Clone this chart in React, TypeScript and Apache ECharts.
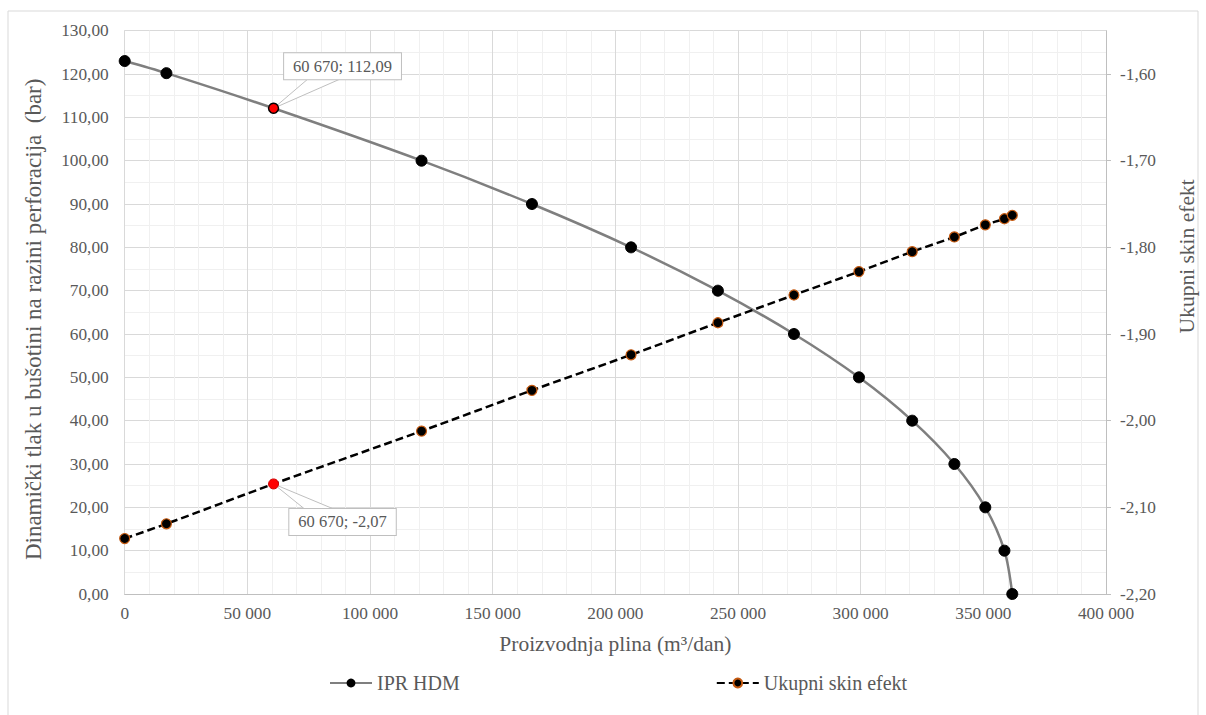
import React, { useEffect, useRef } from "react";
import * as echarts from "echarts";

// Production (m3/dan) for each measured point
const production = [0, 17000, 60670, 121000, 166000, 206400, 241800, 272800, 299300, 321000, 338200, 350800, 358600, 361800];
// IPR HDM – bottom-hole pressure (bar)
const pressure = [123.0, 120.2, 112.09, 100, 90, 80, 70, 60, 50, 40, 30, 20, 10, 0];
// Ukupni skin efekt
const skin = [-2.136, -2.119, -2.073, -2.012, -1.965, -1.924, -1.887, -1.855, -1.828, -1.805, -1.788, -1.774, -1.767, -1.763];
const highlightIndex = 2;
const seriesNames = ["IPR HDM", "Ukupni skin efekt"];
const xAxisTitle = "Proizvodnja plina (m³/dan)";
const yLeftTitle = "Dinamički tlak u bušotini na razini perforacija  (bar)";
const yRightTitle = "Ukupni skin efekt";

const FONT = "Liberation Serif";
const TEXT = "#595959";

const fmtNum = (v: number, d: number) => v.toFixed(d).replace(".", ",");
const fmtThousands = (v: number) =>
  String(Math.round(v)).replace(/\B(?=(\d{3})+(?!\d))/g, " ");

export default function App() {
  const ref = useRef<HTMLDivElement>(null);
  useEffect(() => {
    if (!ref.current) return;
    const chart = echarts.init(ref.current, undefined, { renderer: "svg" });

    const labelBase = {
      show: true,
      position: "inside",
      backgroundColor: "#ffffff",
      borderColor: "#bfbfbf",
      borderWidth: 1,
      padding: [5, 9, 4, 9],
      color: TEXT,
      fontSize: 16.5,
      fontFamily: FONT,
    };

    const iprData = production.map((x, i) =>
      i === highlightIndex
        ? {
            value: [x, pressure[i]],
            itemStyle: { color: "#ff0000", borderColor: "#000000", borderWidth: 1.5 },
            symbolSize: 10,
            label: {
              ...labelBase,
              offset: [69, -42],
              formatter: (p: any) => `${fmtThousands(p.value[0])}; ${fmtNum(p.value[1], 2)}`,
            },
          }
        : [x, pressure[i]]
    );
    const skinData = production.map((x, i) =>
      i === highlightIndex
        ? {
            value: [x, skin[i]],
            itemStyle: { color: "#ff0000", borderColor: "#d00000", borderWidth: 1 },
            symbolSize: 10,
            label: {
              ...labelBase,
              offset: [69, 38],
              formatter: (p: any) => `${fmtThousands(p.value[0])}; ${fmtNum(p.value[1], 2)}`,
            },
          }
        : [x, skin[i]]
    );

    chart.setOption({
      animation: false,
      backgroundColor: "#ffffff",
      textStyle: { fontFamily: FONT },
      grid: { left: 124.7, right: 94.5, top: 30.7, bottom: 121, containLabel: false },
      legend: {
        left: 324,
        top: 668,
        itemGap: 256,
        itemWidth: 42,
        itemHeight: 11,
        textStyle: { color: TEXT, fontSize: 20, fontFamily: FONT },
        data: seriesNames,
      },
      xAxis: {
        type: "value",
        min: 0,
        max: 400000,
        interval: 50000,
        name: xAxisTitle,
        nameLocation: "middle",
        nameGap: 39,
        nameTextStyle: { color: TEXT, fontSize: 21.5, fontFamily: FONT },
        axisLine: { show: true, lineStyle: { color: "#bfbfbf" } },
        axisTick: { show: false },
        axisLabel: { color: TEXT, fontSize: 17.3, fontFamily: FONT, margin: 11, formatter: (v: number) => fmtThousands(v) },
        splitLine: { show: true, lineStyle: { color: "#d9d9d9" } },
        minorTick: { show: false, splitNumber: 5 },
        minorSplitLine: { show: true, lineStyle: { color: "#f0f0f0" } },
      },
      yAxis: [
        {
          type: "value",
          min: 0,
          max: 130,
          interval: 10,
          position: "left",
          name: yLeftTitle,
          nameLocation: "middle",
          nameRotate: 90,
          nameGap: 80,
          nameTextStyle: { color: TEXT, fontSize: 23, fontFamily: FONT, padding: [0, 14, 0, 0] },
          axisLine: { show: true, lineStyle: { color: "#d9d9d9" } },
          axisTick: { show: false },
          axisLabel: { color: TEXT, fontSize: 17.3, fontFamily: FONT, margin: 16, formatter: (v: number) => fmtNum(v, 2) },
          splitLine: { show: true, lineStyle: { color: "#d9d9d9" } },
          minorTick: { show: false, splitNumber: 2 },
          minorSplitLine: { show: true, lineStyle: { color: "#f0f0f0" } },
        },
        {
          type: "value",
          min: -2.2,
          max: -1.55,
          interval: 0.1,
          position: "right",
          name: yRightTitle,
          nameLocation: "middle",
          nameRotate: 90,
          nameGap: 70,
          nameTextStyle: { color: TEXT, fontSize: 21.5, fontFamily: FONT, padding: [0, 0, 0, 112] },
          axisLine: { show: true, lineStyle: { color: "#bfbfbf" } },
          axisTick: { show: true, length: 5, lineStyle: { color: "#bfbfbf" } },
          axisLabel: {
            color: TEXT,
            fontSize: 17.3,
            fontFamily: FONT,
            margin: 14,
            showMaxLabel: false,
            formatter: (v: number) => (v > -1.56 ? "" : fmtNum(v, 2)),
          },
          splitLine: { show: false },
        },
      ],
      series: [
        {
          name: seriesNames[0],
          type: "line",
          xAxisIndex: 0,
          yAxisIndex: 0,
          smooth: 0.3,
          symbol: "circle",
          symbolSize: 11,
          data: iprData,
          lineStyle: { color: "#7f7f7f", width: 2.5 },
          itemStyle: { color: "#000000", borderColor: "#000000" },
          z: 3,
        },
        {
          name: seriesNames[1],
          type: "line",
          xAxisIndex: 0,
          yAxisIndex: 1,
          smooth: 0.3,
          symbol: "circle",
          symbolSize: 10,
          data: skinData,
          lineStyle: { color: "#000000", width: 2.5, type: [8, 4] },
          itemStyle: { color: "#000000", borderColor: "#c55a11", borderWidth: 1.2 },
          z: 3,
        },
      ],
    });

    const p1 = chart.convertToPixel({ xAxisIndex: 0, yAxisIndex: 0 }, [production[highlightIndex], pressure[highlightIndex]]) as number[];
    const p2 = chart.convertToPixel({ xAxisIndex: 0, yAxisIndex: 1 }, [production[highlightIndex], skin[highlightIndex]]) as number[];

    chart.setOption({
      graphic: [
        {
          type: "rect",
          shape: { x: 8, y: 11, width: 1190, height: 710 },
          style: { fill: "none", stroke: "#d9d9d9", lineWidth: 1 },
          silent: true,
          z: 0,
        },
        {
          type: "polygon",
          shape: { points: [[p1[0], p1[1]], [p1[0] + 34, p1[1] - 29], [p1[0] + 66, p1[1] - 29]] },
          style: { fill: "#ffffff", stroke: "#bfbfbf", lineWidth: 1 },
          z: 1,
        },
        {
          type: "polygon",
          shape: { points: [[p2[0], p2[1]], [p2[0] + 31, p2[1] + 25], [p2[0] + 60, p2[1] + 25]] },
          style: { fill: "#ffffff", stroke: "#bfbfbf", lineWidth: 1 },
          z: 1,
        },
      ],
    });

    return () => chart.dispose();
  }, []);

  return (
    <div
      ref={ref}
      style={{ position: "fixed", left: 0, top: 0, width: 1206, height: 715, background: "#fff" }}
    />
  );
}
